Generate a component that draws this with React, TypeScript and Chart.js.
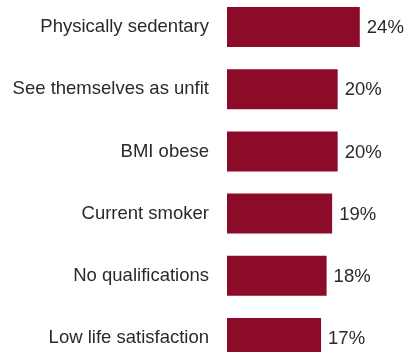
import React, { useEffect, useRef } from "react";
import { Chart, registerables } from "chart.js";

Chart.register(...registerables);

const categories = [
  "Physically sedentary",
  "See themselves as unfit",
  "BMI obese",
  "Current smoker",
  "No qualifications",
  "Low life satisfaction",
];
const values = [24, 20, 20, 19, 18, 17];

const FONT = "'Liberation Sans', Arial, Helvetica, sans-serif";
const TEXT = "#2a2a2a";
const BAR = "#8C0B29";

const valueLabels = {
  id: "valueLabels",
  afterDatasetsDraw(chart: any) {
    const ctx = chart.ctx;
    const meta = chart.getDatasetMeta(0);
    ctx.save();
    ctx.font = `18.5px ${FONT}`;
    ctx.fillStyle = TEXT;
    ctx.textAlign = "left";
    ctx.textBaseline = "middle";
    meta.data.forEach((bar: any, i: number) => {
      ctx.fillText(`${values[i]}%`, bar.x + 7, bar.y + 1);
    });
    ctx.restore();
  },
};

export default function App() {
  const ref = useRef<HTMLCanvasElement>(null);
  useEffect(() => {
    if (!ref.current) return;
    const chart = new Chart(ref.current, {
      type: "bar",
      data: {
        labels: categories,
        datasets: [
          {
            data: values,
            backgroundColor: BAR,
            borderWidth: 0,
            categoryPercentage: 1,
            barPercentage: 0.643,
          },
        ],
      },
      options: {
        indexAxis: "y",
        animation: false,
        responsive: true,
        maintainAspectRatio: false,
        layout: { padding: { left: 0, right: 15, top: 0, bottom: 0 } },
        plugins: {
          legend: { display: false },
          tooltip: { enabled: false },
          title: { display: false },
        },
        scales: {
          x: { display: false, min: 0, max: 30 },
          y: {
            grid: { display: false, drawTicks: false },
            border: { display: false },
            ticks: {
              color: TEXT,
              padding: 18,
              font: { family: FONT, size: 18.5 },
            },
            afterFit(scale: any) {
              scale.width = 227;
              scale.paddingTop = 0;
              scale.paddingBottom = 0;
            },
          },
        },
      },
      plugins: [valueLabels],
    });
    return () => chart.destroy();
  }, []);

  return (
    <div
      style={{
        position: "fixed",
        left: 0,
        top: 0,
        width: 408,
        height: 352,
        overflow: "hidden",
        background: "#fff",
      }}
    >
      <div
        style={{
          position: "absolute",
          left: 0,
          top: -4,
          width: 408,
          height: 373,
        }}
      >
        <canvas ref={ref} />
      </div>
    </div>
  );
}
